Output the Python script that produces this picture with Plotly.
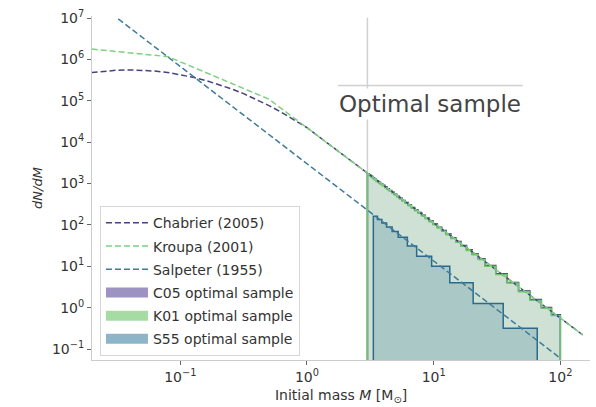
import plotly.graph_objects as go

# ---- IMF curves: initial mass [Msun] and dN/dM ----
chabrier_mass = [0.01995, 0.02512, 0.03162, 0.03981, 0.05012, 0.0631, 0.07943, 0.1,
                 0.1259, 0.1585, 0.1995, 0.2512, 0.3162, 0.3981, 0.5012, 0.631,
                 0.7943, 1.0, 150.0]
chabrier_dndm = [4.80e5, 5.21e5, 5.50e5, 5.58e5, 5.51e5, 5.25e5, 4.84e5, 4.32e5,
                 3.72e5, 3.11e5, 2.51e5, 1.96e5, 1.49e5, 1.09e5, 7.69e4, 5.26e4,
                 3.48e4, 2.24e4, 0.221]

kroupa_mass = [0.02, 0.08, 0.5, 150.0]
kroupa_dndm = [1.78e6, 1.17e6, 1.10e5, 0.221]

salpeter_mass = [0.0324, 100.0]
salpeter_dndm = [9.55e6, 0.0603]

# ---- optimal samples: bin edges [Msun] and dN/dM in each bin ----
c05_edges = [3.000, 3.090, 3.192, 3.296, 3.412, 3.532, 3.664, 3.802, 3.954, 4.111,
             4.285, 4.467, 4.667, 4.887, 5.117, 5.370, 5.649, 5.957, 6.295, 6.668,
             7.079, 7.534, 8.035, 8.590, 9.204, 9.908, 10.69, 11.56, 12.56, 13.68,
             14.96, 16.44, 18.16, 20.14, 22.49, 25.35, 30.90, 38.02, 46.77, 57.54,
             70.79, 85.11, 100.0]
c05_dndm = [1730, 1611, 1496, 1384, 1279, 1178, 1082, 991, 906, 826,
            751, 681, 614, 552, 495, 442, 393, 347, 304, 266,
            231, 200, 172, 147, 125, 105, 87.9, 73.1, 60.2, 49.2,
            39.8, 31.9, 25.3, 19.8, 15.2, 10.5, 6.60, 4.10, 2.54, 1.58,
            1.01, 0.677]

k01_edges = c05_edges
k01_dndm = [1660, 1547, 1436, 1329, 1228, 1131, 1039, 951, 870, 793,
            721, 654, 589, 530, 475, 424, 377, 333, 292, 255,
            222, 192, 165, 141, 120, 101, 84.4, 70.2, 57.8, 47.2,
            38.2, 30.6, 24.3, 19.0, 14.6, 10.1, 6.34, 3.94, 2.44, 1.52,
            0.97, 0.65]

s55_edges = [3.34, 3.6, 3.9, 4.25, 4.7, 5.25, 6.2, 7.34, 9.64, 13.4, 20.5, 35.4, 65.7]
s55_dndm = [162, 136, 111, 89.5, 69.8, 50.4, 31.0, 17.5, 10.1, 4.03, 1.26, 0.318]

# axis ticks
x_tickvals = [0.1, 1, 10, 100]
x_ticktext = ["10<sup>\u22121</sup>", "10<sup>0</sup>", "10<sup>1</sup>", "10<sup>2</sup>"]
y_tickvals = [1e-1, 1e0, 1e1, 1e2, 1e3, 1e4, 1e5, 1e6, 1e7]
y_ticktext = ["10<sup>\u22121</sup>", "10<sup>0</sup>", "10<sup>1</sup>", "10<sup>2</sup>",
              "10<sup>3</sup>", "10<sup>4</sup>", "10<sup>5</sup>", "10<sup>6</sup>",
              "10<sup>7</sup>"]

FONT = "DejaVu Sans"
BASE = 1e-3  # floor for the filled histograms (below the visible range)


def step_polygon(edges, heights):
    xs, ys = [edges[0]], [BASE]
    for i, h in enumerate(heights):
        xs += [edges[i], edges[i + 1]]
        ys += [h, h]
    xs.append(edges[-1])
    ys.append(BASE)
    return xs, ys


fig = go.Figure()

samples = [
    ("C05 optimal sample", c05_edges, c05_dndm, "rgba(90,70,150,0.12)", "#3b3273", "#9d93c2"),
    ("K01 optimal sample", k01_edges, k01_dndm, "rgba(80,190,80,0.18)", "#6cc46c", "#a6dca3"),
    ("S55 optimal sample", s55_edges, s55_dndm, "rgba(30,100,140,0.20)", "#2b6a8a", "#8db5c7"),
]
for name, edges, vals, fillc, linec, _ in samples:
    xs, ys = step_polygon(edges, vals)
    fig.add_trace(go.Scatter(x=xs, y=ys, mode="lines", fill="toself", fillcolor=fillc,
                             line=dict(color=linec, width=1.5), showlegend=False,
                             hoverinfo="skip", name=name))

curves = [
    ("Chabrier (2005)", chabrier_mass, chabrier_dndm, "#46427f"),
    ("Kroupa (2001)", kroupa_mass, kroupa_dndm, "#7fd07f"),
    ("Salpeter (1955)", salpeter_mass, salpeter_dndm, "#3f7b99"),
]
for i, (name, m, v, c) in enumerate(curves):
    fig.add_trace(go.Scatter(x=m, y=v, mode="lines", name=name,
                             line=dict(color=c, width=1.5, dash="6px,3px"),
                             legendgroup=f"g{i}"))

# legend swatches for the filled samples
for j, (name, _, _, _, _, swatch) in enumerate(samples):
    fig.add_trace(go.Scatter(x=[None], y=[None], mode="lines", name=name,
                             line=dict(color=swatch, width=10),
                             legendgroup=f"s{j}"))

# marker for the lower mass limit of the optimal sample
fig.add_shape(type="line", xref="x", yref="paper", x0=3.0, x1=3.0, y0=0, y1=0.995,
              line=dict(color="#d0d0d0", width=1.5), layer="below")
fig.add_shape(type="line", xref="paper", yref="paper", x0=0.494, x1=0.865, y0=0.798, y1=0.798,
              line=dict(color="#d0d0d0", width=1.5))
fig.add_annotation(text="Optimal sample", xref="paper", yref="paper", x=0.679, y=0.744,
                   xanchor="center", yanchor="middle",
                   showarrow=False, font=dict(family=FONT, size=23, color="#444444"),
                   bgcolor="white", borderpad=2)

fig.update_layout(
    width=596, height=407,
    margin=dict(l=92, r=6, t=16, b=44),
    paper_bgcolor="white", plot_bgcolor="white",
    font=dict(family=FONT, size=14, color="#333333"),
    legend=dict(x=0.016, y=0.447, xanchor="left", yanchor="top",
                bgcolor="rgba(255,255,255,0.85)", bordercolor="#d6d6d6", borderwidth=1,
                font=dict(family=FONT, size=14, color="#333333"),
                tracegroupgap=2, traceorder="grouped", itemwidth=42),
    xaxis=dict(type="log", range=[-1.697, 2.234], tickvals=x_tickvals, ticktext=x_ticktext,
               ticks="outside", ticklen=4, tickcolor="#666", showline=True, linecolor="#cccccc",
               showgrid=False, zeroline=False, tickfont=dict(size=14),
               title=dict(text="Initial mass <i>M</i> [M<sub>\u2299</sub>]", standoff=6,
                          font=dict(size=14))),
    yaxis=dict(type="log", range=[-1.263, 7.05], tickvals=y_tickvals, ticktext=y_ticktext,
               ticks="outside", ticklen=4, tickcolor="#666", showline=True, linecolor="#cccccc",
               showgrid=False, zeroline=False, tickfont=dict(size=14),
               title=dict(text="<i>dN/dM</i>", standoff=6, font=dict(size=13))),
)

fig.write_html("out.html")
